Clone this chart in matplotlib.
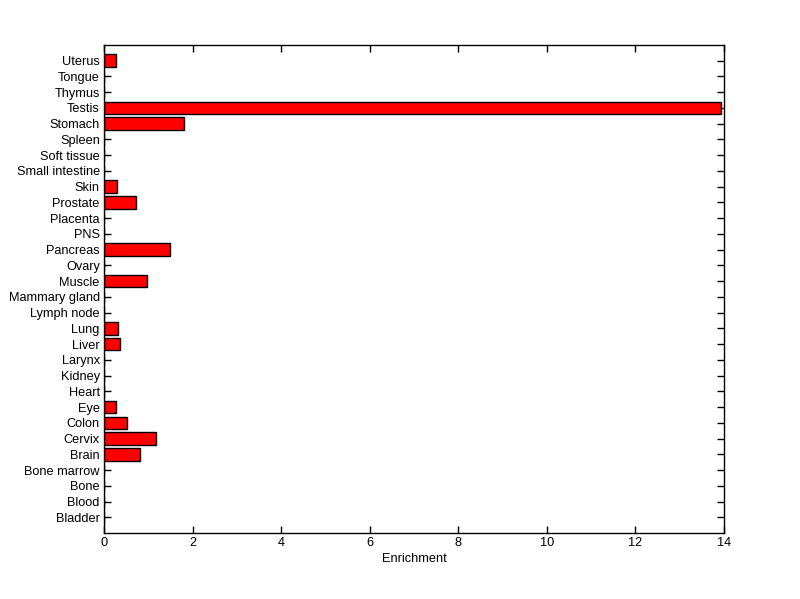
import matplotlib
matplotlib.use("Agg")
import matplotlib.pyplot as plt

categories = ["Bladder", "Blood", "Bone", "Bone marrow", "Brain", "Cervix", "Colon", "Eye",
              "Heart", "Kidney", "Larynx", "Liver", "Lung", "Lymph node", "Mammary gland",
              "Muscle", "Ovary", "Pancreas", "PNS", "Placenta", "Prostate", "Skin",
              "Small intestine", "Soft tissue", "Spleen", "Stomach", "Testis", "Thymus",
              "Tongue", "Uterus"]
values = [0, 0, 0, 0, 0.82, 1.18, 0.53, 0.27,
          0, 0, 0, 0.36, 0.32, 0, 0,
          0.98, 0, 1.48, 0, 0, 0.72, 0.30,
          0, 0, 0, 1.80, 13.93, 0,
          0, 0.26]
xticks = [0, 2, 4, 6, 8, 10, 12, 14]

plt.rcParams['font.family'] = ['Liberation Sans', 'DejaVu Sans']
fig = plt.figure(figsize=(8, 5.99), dpi=100)
ax = fig.add_axes([0.13, 0.11, 0.775, 0.815])
pos = list(range(1, len(categories) + 1))
ax.barh(pos, values, height=0.8, color='#ff0000', edgecolor='black', linewidth=1.0, zorder=2)
ax.set_axisbelow(True)
ax.set_ylim(0, len(categories) + 1)
ax.set_xlim(0, 14)
ax.set_yticks(pos)
ax.set_yticklabels(categories, fontsize=9.2)
ax.set_xticks(xticks)
ax.set_xticklabels([str(t) for t in xticks], fontsize=9.2)
ax.set_xlabel("Enrichment", fontsize=9.2, labelpad=3)
ax.tick_params(axis='both', direction='in', top=True, right=True, length=5, width=1, pad=3)
for s in ax.spines.values():
    s.set_linewidth(1)
    s.set_zorder(3)
fig.savefig("out.png", dpi=100)
